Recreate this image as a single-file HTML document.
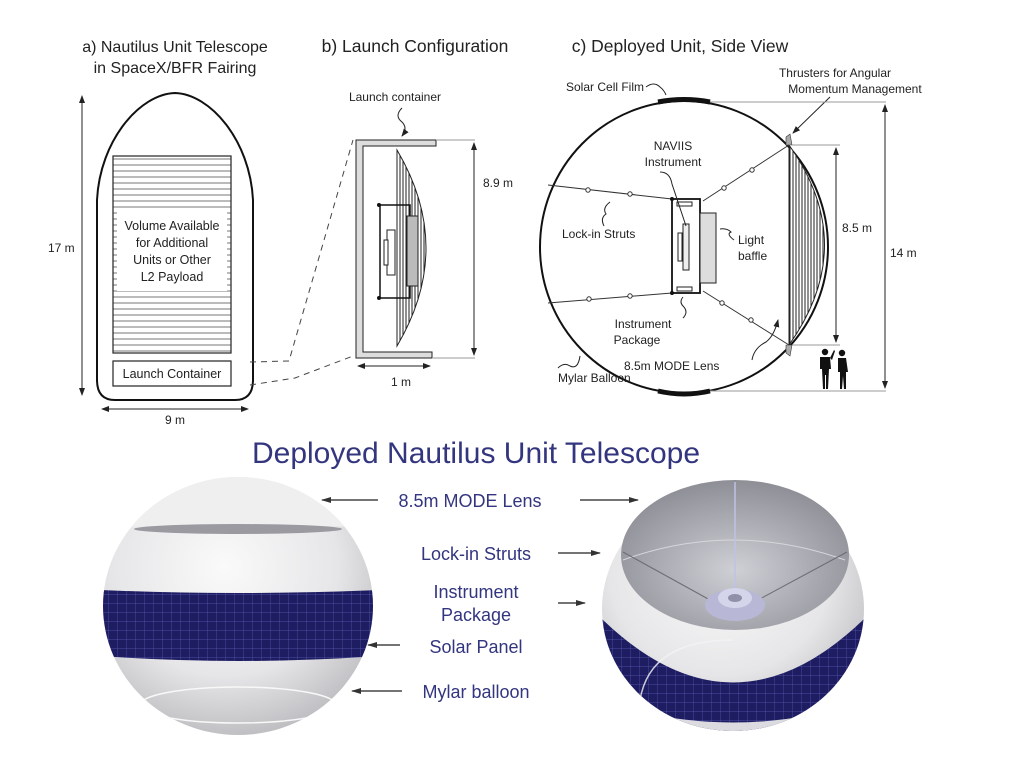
<!DOCTYPE html>
<html><head><meta charset="utf-8"><style>
html,body{margin:0;padding:0;background:#fff;width:1024px;height:759px;overflow:hidden}
svg{display:block}
text{font-family:"Liberation Sans",sans-serif;fill:#222}
</style></head><body>
<svg width="1024" height="759" viewBox="0 0 1024 759" xmlns="http://www.w3.org/2000/svg">
<defs>
<marker id="ah" markerWidth="8" markerHeight="8" refX="7" refY="4" orient="auto-start-reverse" markerUnits="userSpaceOnUse"><path d="M0,1 L8,4 L0,7 Z" fill="#222"/></marker>
<marker id="bh" markerWidth="10" markerHeight="8" refX="9" refY="4" orient="auto-start-reverse" markerUnits="userSpaceOnUse"><path d="M0,1 L10,4 L0,7 Z" fill="#333"/></marker>
<pattern id="hz" width="10" height="6" patternUnits="userSpaceOnUse"><line x1="0" y1="3" x2="10" y2="3" stroke="#555" stroke-width="0.8"/></pattern>
<pattern id="vl" width="3" height="10" patternUnits="userSpaceOnUse"><line x1="1" y1="0" x2="1" y2="10" stroke="#222" stroke-width="1"/></pattern>
<pattern id="grid" width="9" height="9" patternUnits="userSpaceOnUse"><rect width="9" height="9" fill="#1e1d62"/><path d="M0,0 H9 M0,0 V9" stroke="#5a5ab0" stroke-width="0.7"/></pattern>
<radialGradient id="sph" cx="0.45" cy="0.35" r="0.7"><stop offset="0" stop-color="#fafafa"/><stop offset="0.6" stop-color="#e6e6e8"/><stop offset="1" stop-color="#b8b8bc"/></radialGradient>
<radialGradient id="inner" cx="0.5" cy="0.6" r="0.6"><stop offset="0" stop-color="#cfcfd6"/><stop offset="1" stop-color="#8e8e96"/></radialGradient>
<clipPath id="lensA"><path d="M397,150 Q455,248 397,346 Z"/></clipPath>
<clipPath id="lensC"><path d="M789,145 Q860,245 789,345 Z"/></clipPath>
<clipPath id="sL"><ellipse cx="238" cy="606" rx="135" ry="129"/></clipPath>
<clipPath id="sR"><ellipse cx="733" cy="609" rx="131" ry="122"/></clipPath>
</defs>

<text x="175" y="52" font-size="16" text-anchor="middle">a) Nautilus Unit Telescope</text>
<text x="175" y="73" font-size="16" text-anchor="middle">in SpaceX/BFR Fairing</text>
<text x="415" y="52" font-size="17.5" text-anchor="middle">b) Launch Configuration</text>
<text x="680" y="52" font-size="17.5" text-anchor="middle">c) Deployed Unit, Side View</text>

<path d="M97,380 L97,200 C100,140 140,94 175,93 C210,94 250,140 253,200 L253,380 Q253,400 235,400 L115,400 Q97,400 97,380 Z" fill="none" stroke="#111" stroke-width="2"/>
<rect x="113" y="156" width="118" height="197" fill="url(#hz)" stroke="#222" stroke-width="1.2"/>
<rect x="117" y="209" width="110" height="82" fill="#fff"/>
<text x="172" y="230" font-size="12.5" text-anchor="middle">Volume Available</text>
<text x="172" y="247" font-size="12.5" text-anchor="middle">for Additional</text>
<text x="172" y="264" font-size="12.5" text-anchor="middle">Units or Other</text>
<text x="172" y="281" font-size="12.5" text-anchor="middle">L2 Payload</text>
<rect x="113" y="361" width="118" height="25" fill="#fff" stroke="#222" stroke-width="1.2"/>
<text x="172" y="378" font-size="12.5" text-anchor="middle">Launch Container</text>
<line x1="82" y1="96" x2="82" y2="395" stroke="#222" marker-start="url(#ah)" marker-end="url(#ah)"/>
<text x="48" y="252" font-size="12">17 m</text>
<line x1="102" y1="409" x2="248" y2="409" stroke="#222" marker-start="url(#ah)" marker-end="url(#ah)"/>
<text x="175" y="424" font-size="12" text-anchor="middle">9 m</text>
<path d="M250,362 L289,361 L353,140" fill="none" stroke="#444" stroke-dasharray="6,5"/>
<path d="M250,385 L295,378 L353,356" fill="none" stroke="#444" stroke-dasharray="6,5"/>

<text x="395" y="101" font-size="12" text-anchor="middle">Launch container</text>
<path d="M402,108 q-8,8 0,14 q6,6 0,14" fill="none" stroke="#222" marker-end="url(#ah)"/>
<path d="M356,140 H436 V146 H363 V352 H432 V358 H356 Z" fill="#ddd" stroke="#222" stroke-width="1"/>
<path d="M397,150 Q455,248 397,346 Z" fill="#fff" stroke="#222"/>
<rect x="397" y="150" width="45" height="196" fill="url(#vl)" clip-path="url(#lensA)"/>
<rect x="380" y="205" width="30" height="93" fill="none" stroke="#111" stroke-width="1.5"/>
<rect x="407" y="216" width="11" height="70" fill="#bbb" stroke="#222"/>
<rect x="387" y="230" width="8" height="45" fill="#fff" stroke="#222"/>
<rect x="384" y="240" width="4" height="25" fill="#fff" stroke="#222"/>
<circle cx="379" cy="205" r="2" fill="#111"/><circle cx="379" cy="298" r="2" fill="#111"/>
<line x1="436" y1="140" x2="475" y2="140" stroke="#999"/><line x1="432" y1="358" x2="475" y2="358" stroke="#999"/>
<line x1="474" y1="143" x2="474" y2="355" stroke="#222" marker-start="url(#ah)" marker-end="url(#ah)"/>
<text x="483" y="187" font-size="12">8.9 m</text>
<line x1="358" y1="366" x2="430" y2="366" stroke="#222" marker-start="url(#ah)" marker-end="url(#ah)"/>
<text x="401" y="386" font-size="12" text-anchor="middle">1 m</text>

<ellipse cx="684" cy="247" rx="144" ry="146" fill="none" stroke="#111" stroke-width="2"/>
<path d="M658,102 Q684,97 710,102" fill="none" stroke="#111" stroke-width="5"/>
<path d="M658,391 Q684,397 710,391" fill="none" stroke="#111" stroke-width="5"/>
<text x="566" y="91" font-size="12">Solar Cell Film</text>
<path d="M646,87 q8,-6 14,0 q4,3 6,8" fill="none" stroke="#222"/>
<text x="835" y="77" font-size="12" text-anchor="middle">Thrusters for Angular</text>
<text x="855" y="93" font-size="12" text-anchor="middle">Momentum Management</text>
<line x1="830" y1="97" x2="793" y2="133" stroke="#222" marker-end="url(#ah)"/>
<path d="M789,145 Q860,245 789,345 Z" fill="#fff" stroke="#222"/>
<rect x="789" y="145" width="50" height="200" fill="url(#vl)" clip-path="url(#lensC)"/>
<path d="M786,137 L790,134 L792,145 L786,145 Z" fill="#aaa" stroke="#333" stroke-width="0.6"/>
<path d="M786,345 L792,345 L790,356 L786,353 Z" fill="#aaa" stroke="#333" stroke-width="0.6"/>
<g stroke="#333" stroke-width="1" fill="#fff">
<line x1="548" y1="185" x2="672" y2="199"/><line x1="548" y1="303" x2="672" y2="293"/>
<line x1="703" y1="201" x2="789" y2="145"/><line x1="703" y1="291" x2="789" y2="345"/>
<circle cx="588" cy="190" r="2.2"/><circle cx="630" cy="194" r="2.2"/>
<circle cx="589" cy="299" r="2.2"/><circle cx="630" cy="296" r="2.2"/>
<circle cx="724" cy="188" r="2.2"/><circle cx="752" cy="170" r="2.2"/>
<circle cx="722" cy="303" r="2.2"/><circle cx="751" cy="320" r="2.2"/>
</g>
<rect x="672" y="199" width="28" height="94" fill="#fff" stroke="#111" stroke-width="1.8"/>
<rect x="677" y="202" width="15" height="4" fill="#fff" stroke="#222"/>
<rect x="677" y="287" width="15" height="4" fill="#fff" stroke="#222"/>
<rect x="700" y="213" width="16" height="70" fill="#ddd" stroke="#222"/>
<rect x="683" y="224" width="6" height="46" fill="#eee" stroke="#222"/>
<rect x="678" y="233" width="4" height="28" fill="#fff" stroke="#222"/>
<circle cx="672" cy="199" r="2" fill="#111"/><circle cx="672" cy="293" r="2" fill="#111"/>
<text x="673" y="150" font-size="12" text-anchor="middle">NAVIIS</text>
<text x="673" y="166" font-size="12" text-anchor="middle">Instrument</text>
<path d="M660,172 q10,0 12,12 L686,226" fill="none" stroke="#222"/>
<text x="562" y="238" font-size="12">Lock-in Struts</text>
<path d="M604,226 q-4,-8 2,-12 q-4,-6 4,-12" fill="none" stroke="#222"/>
<text x="738" y="244" font-size="12">Light</text>
<text x="738" y="260" font-size="12">baffle</text>
<path d="M734,240 q-8,-6 -3,-8 q-4,-4 -11,-3" fill="none" stroke="#222"/>
<text x="643" y="328" font-size="12" text-anchor="middle">Instrument</text>
<text x="637" y="344" font-size="12" text-anchor="middle">Package</text>
<path d="M683,318 q6,-6 0,-12 q-4,-4 0,-9" fill="none" stroke="#222"/>
<text x="624" y="370" font-size="12">8.5m MODE Lens</text>
<path d="M752,360 q2,-12 14,-18 q8,-6 12,-22" fill="none" stroke="#222" marker-end="url(#ah)"/>
<text x="558" y="382" font-size="12">Mylar Balloon</text>
<path d="M558,368 q6,-6 12,-2 q8,4 10,-10" fill="none" stroke="#222"/>
<line x1="792" y1="145" x2="840" y2="145" stroke="#999"/><line x1="792" y1="345" x2="840" y2="345" stroke="#999"/>
<line x1="836" y1="148" x2="836" y2="342" stroke="#222" marker-start="url(#ah)" marker-end="url(#ah)"/>
<text x="842" y="232" font-size="12">8.5 m</text>
<line x1="710" y1="102" x2="886" y2="102" stroke="#999"/><line x1="710" y1="391" x2="886" y2="391" stroke="#999"/>
<line x1="885" y1="105" x2="885" y2="388" stroke="#222" marker-start="url(#ah)" marker-end="url(#ah)"/>
<text x="890" y="257" font-size="12">14 m</text>
<g fill="#111">
<circle cx="825" cy="352" r="3.2"/><path d="M820,357 h10 l1,12 -2,0 -1,20 -2,0 0,-14 -1,0 0,14 -2,0 -1,-20 -2,0 Z"/><path d="M830,358 l4,-8 1,1 -3,9 Z"/>
<circle cx="842" cy="353" r="3.2"/><path d="M838,358 h8 l2,14 -2,0 0,17 -2,0 -1,-13 -1,13 -2,0 0,-17 -2,0 Z"/>
</g>

<text x="476" y="463" font-size="30" text-anchor="middle" style="fill:#33357f">Deployed Nautilus Unit Telescope</text>

<!-- left sphere -->
<ellipse cx="238" cy="606" rx="135" ry="129" fill="url(#sph)"/>
<g clip-path="url(#sL)">
<path d="M100,476 H380 V528 Q238,522 100,528 Z" fill="#efeff0"/>
<ellipse cx="238" cy="529" rx="104" ry="5" fill="#9a9aa0"/>
<path d="M100,590 Q238,596 380,590 L380,656 Q238,666 100,656 Z" fill="url(#grid)"/>
<ellipse cx="238" cy="705" rx="98" ry="18" fill="none" stroke="#f8f8f8" stroke-width="1.5"/>
</g>
<!-- right sphere -->
<ellipse cx="733" cy="609" rx="131" ry="122" fill="url(#sph)"/>
<g clip-path="url(#sR)">
<path d="M598,615 Q733,750 868,615 L868,760 L598,760 Z" fill="url(#grid)"/>
<path d="M598,700 Q733,745 868,700 L868,760 L598,760 Z" fill="#dcdce0"/>
<path d="M640,700 Q650,640 733,640" fill="none" stroke="#f4f4f6" stroke-width="1.5" opacity="0.8"/>
</g>
<ellipse cx="735" cy="555" rx="114" ry="75" fill="url(#inner)"/>
<path d="M623,560 Q733,520 845,560" fill="none" stroke="#d6d6da" stroke-width="1"/>
<line x1="735" y1="482" x2="735" y2="590" stroke="#c0c0e8" stroke-width="1.5"/>
<line x1="623" y1="552" x2="710" y2="600" stroke="#6c6c74"/><line x1="847" y1="552" x2="758" y2="600" stroke="#6c6c74"/>
<ellipse cx="735" cy="605" rx="30" ry="16" fill="#b8b8d6"/>
<ellipse cx="735" cy="598" rx="17" ry="10" fill="#d4d4ea"/>
<ellipse cx="735" cy="598" rx="7" ry="4" fill="#9090a8"/>

<g font-size="18">
<text x="470" y="507" text-anchor="middle" style="fill:#33357f">8.5m MODE Lens</text>
<text x="476" y="560" text-anchor="middle" style="fill:#33357f">Lock-in Struts</text>
<text x="476" y="598" text-anchor="middle" style="fill:#33357f">Instrument</text>
<text x="476" y="621" text-anchor="middle" style="fill:#33357f">Package</text>
<text x="476" y="653" text-anchor="middle" style="fill:#33357f">Solar Panel</text>
<text x="476" y="698" text-anchor="middle" style="fill:#33357f">Mylar balloon</text>
</g>
<g stroke="#222" stroke-width="1.2">
<line x1="378" y1="500" x2="322" y2="500" marker-end="url(#bh)"/>
<line x1="580" y1="500" x2="638" y2="500" marker-end="url(#bh)"/>
<line x1="558" y1="553" x2="600" y2="553" marker-end="url(#bh)"/>
<line x1="558" y1="603" x2="585" y2="603" marker-end="url(#bh)"/>
<line x1="400" y1="645" x2="368" y2="645" marker-end="url(#bh)"/>
<line x1="402" y1="691" x2="352" y2="691" marker-end="url(#bh)"/>
</g>
</svg>
</body></html>
